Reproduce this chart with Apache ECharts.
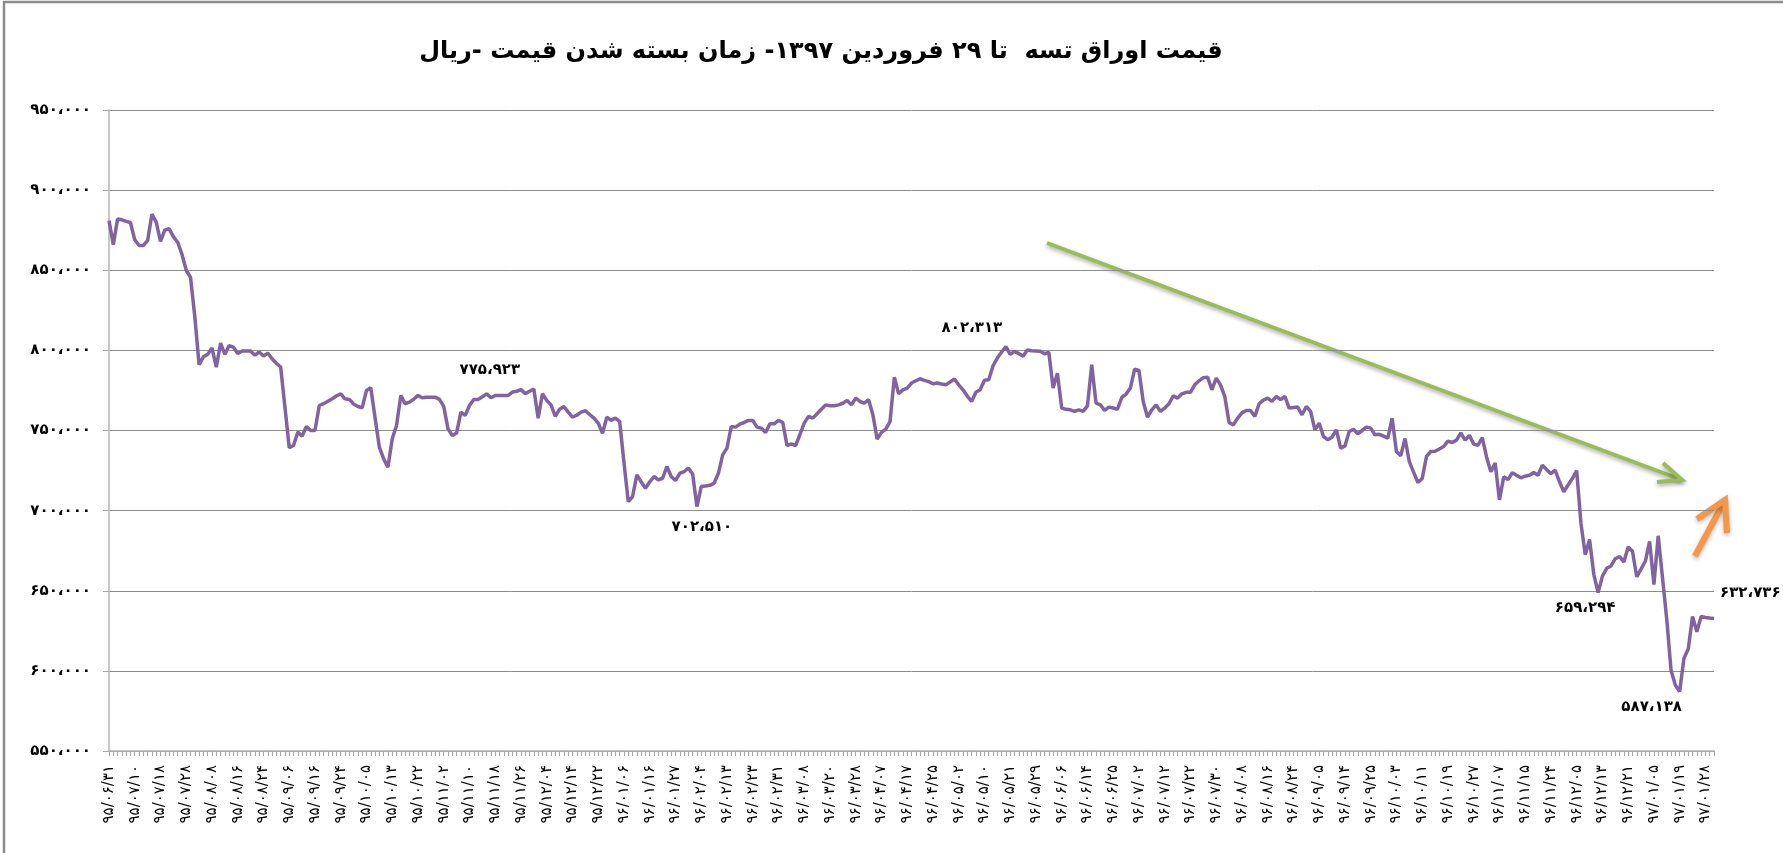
<!DOCTYPE html>
<html lang="fa">
<head>
    <meta charset="UTF-8">
    <title>قیمت اوراق تسه</title>
    <script src="https://cdn.jsdelivr.net/npm/echarts@6/dist/echarts.min.js"></script>
    <style>
        html, body { margin: 0; padding: 0; background: #fff; }
        #chart { width: 1783px; height: 853px; }
    </style>
</head>
<body>
<div id="chart"></div>
<script>
    // قیمت روزانه (هزار ریال) - خوانده شده از نمودار
    var priceK = [
        881, 866, 882, 881.5, 880.5, 879.8, 869, 865.5, 865.5, 868.5,
        885, 880, 868, 875, 876, 871, 867.5, 860, 850, 845.5,
        821, 791, 796, 797.5, 801.5, 789.5, 804.5, 797.5, 803, 802,
        798, 799.6, 799.6, 799.6, 797, 799, 796.5, 798.3, 794.8, 792,
        789.6, 764.6, 739.2, 740.6, 749, 746.5, 752.5, 750, 750, 765.6,
        766.7, 768.3, 769.8, 771.5, 772.9, 769.8, 769.4, 766.5, 765, 764.2,
        775, 776.7, 758, 739.6, 732.3, 727.1, 744.8, 753.1, 771.9, 766.7,
        767.7, 769.5, 771.9, 770.4, 770.8, 770.8, 770.8, 769.4, 765, 751,
        746.9, 748.5, 761.5, 759.4, 765.6, 769.4, 769.4, 771, 772.9, 770.4,
        771.9, 771.9, 771.9, 771.9, 774, 774.5, 775.5, 773, 774.5, 775.923,
        757.7, 772.9, 768.8, 766, 758.8, 763.3, 765, 761.5, 758.3, 759.5,
        761.5, 762.3, 760, 757.7, 754.6, 748.3, 758.3, 756.3, 757.7, 755.6,
        730, 705.6, 708.8, 722.3, 718, 714, 718, 721.3, 719.2, 720.2,
        727.5, 721.3, 718.8, 723.3, 724.4, 726.5, 722.9, 702.51, 715, 715.4,
        715.8, 717.1, 723.3, 734.8, 739, 752.5, 752.1, 754, 755, 756.3,
        756.3, 752.1, 751.5, 748.8, 754.2, 754.2, 756.3, 755, 740.6, 741.7,
        740.6, 747.5, 754.6, 758.8, 757.7, 760.5, 763.3, 766, 765.4, 765.5,
        766, 767, 768.8, 766, 770.2, 768.1, 767.1, 769.2, 759.8, 744.6,
        748.8, 750.8, 755.6, 783.3, 772.9, 775.4, 776.5, 779.6, 781, 782.3,
        781.3, 780.5, 779.2, 779.6, 779, 778.5, 780.3, 782.1, 778.5, 775.4,
        771.5, 768.1, 773.8, 775.4, 781.3, 781.7, 790.4, 795.2, 799, 802.313,
        797.5, 799.4, 798, 796.3, 800.2, 799.8, 799.6, 799.4, 797.9, 798.8,
        776.5, 785.8, 764, 763.2, 762.9, 761.9, 762.9, 761.9, 765.4, 791,
        767.1, 766, 762.5, 764.6, 764, 763.3, 770.6, 772.7, 776.5, 788.3,
        787.5, 768.1, 758.3, 762.9, 766, 761.9, 764, 766.7, 771.7, 770.2,
        772.9, 773.8, 773.8, 778.5, 781, 783, 783.3, 775.4, 782.7, 778.5,
        771.3, 755, 753.5, 757.7, 761, 762.5, 762.5, 758.8, 766.7, 769,
        770.2, 768.1, 771.3, 769.2, 771.3, 764, 764.3, 764.6, 759.8, 765,
        761.9, 750.4, 754.6, 746.3, 744.2, 745.8, 750.4, 739, 740.4, 749.4,
        750.8, 747.9, 750, 752.1, 751.5, 747.3, 747.6, 746.5, 745.2, 757.7,
        736.9, 734.2, 745, 730.6, 724, 717.5, 720, 733.8, 736.9, 737,
        738.5, 740, 743.4, 742.5, 744, 748.5, 744, 747, 741.5, 740.8,
        745.6, 733.5, 724.3, 729.7, 706.7, 721.1, 719.4, 723.6, 722, 720.5,
        721.5, 722.1, 723.8, 722.1, 728.3, 725.6, 723.1, 725.2, 718, 711.8,
        716, 720, 725, 692, 672.5, 682, 660.1, 648.8, 659.1, 664,
        665.5, 670, 671.3, 668, 677.3, 674.6, 658.7, 663.5, 668.4, 680.8,
        653.9, 684.3, 658.1, 632, 600.2, 591, 587.138, 607.9, 613.6, 634,
        624.4, 633.9, 633.3, 633, 632.736
    ];

    // برچسب تاریخ ها (هر ۶ روز معاملاتی)
    var tickLabels = [
        '95/06/31', '95/07/10', '95/07/18', '95/07/28', '95/08/08', '95/08/16', '95/08/24',
        '95/09/06', '95/09/16', '95/09/24', '95/10/05', '95/10/13', '95/10/22', '95/11/02',
        '95/11/10', '95/11/18', '95/11/26', '95/12/04', '95/12/14', '95/12/22', '96/01/06',
        '96/01/16', '96/01/27', '96/02/04', '96/02/13', '96/02/23', '96/02/31', '96/03/08',
        '96/03/20', '96/03/28', '96/04/07', '96/04/17', '96/04/25', '96/05/02', '96/05/10',
        '96/05/21', '96/05/29', '96/06/06', '96/06/14', '96/06/25', '96/07/02', '96/07/12',
        '96/07/22', '96/07/30', '96/08/08', '96/08/16', '96/08/24', '96/09/05', '96/09/14',
        '96/09/25', '96/10/03', '96/10/11', '96/10/19', '96/10/27', '96/11/07', '96/11/15',
        '96/11/24', '96/12/05', '96/12/13', '96/12/21', '97/01/05', '97/01/19', '97/01/28'
    ];

    // نقاط مشخص شده روی نمودار
    var annIdx = [99, 209, 137, 347, 366, 374];
    var annValue = [775923, 802313, 702510, 659294, 587138, 632736];

    var yTicks = [550000, 600000, 650000, 700000, 750000, 800000, 850000, 900000, 950000];

    var titleText = 'قیمت اوراق تسه  تا ۲۹ فروردین ۱۳۹۷- زمان بسته شدن قیمت -ریال';

    function fa(s) {
        return String(s).replace(/\d/g, function (d) { return '۰۱۲۳۴۵۶۷۸۹'[d]; });
    }
    function faNum(v) {
        return fa(Math.round(v).toLocaleString('en-US')).replace(/,/g, '،');
    }

    var price = priceK.map(function (v) { return Math.round(v * 1000); });
    var cats = price.map(function (v, i) { return i; });

    // جای برچسب ها نسبت به نقطه
    var annOffset = [[-44, -19], [-34, -19], [5, 21], [-13, 15], [-28, 16], [6, -25]];
    var annAlign = ['center', 'center', 'center', 'center', 'center', 'left'];

    var myChart = echarts.init(document.getElementById('chart'));
    var option = {
        animation: false,
        backgroundColor: '#fff',
        grid: { left: 109, right: 69, top: 110, bottom: 102, containLabel: false },
        xAxis: {
            type: 'category',
            data: cats,
            boundaryGap: false,
            axisLine: { show: true, lineStyle: { color: '#b4b4b4', width: 1.5 } },
            axisTick: { show: true, interval: 0, length: 5, lineStyle: { color: '#a6a6a6' } },
            axisLabel: {
                interval: 5,
                rotate: 90,
                margin: 14,
                color: '#000',
                fontFamily: 'DejaVu Sans',
                fontSize: 15,
                formatter: function (v, i) {
                    var t = tickLabels[i / 6];
                    return t ? fa(t) : '';
                }
            },
            splitLine: { show: false }
        },
        yAxis: {
            type: 'value',
            min: yTicks[0],
            max: yTicks[yTicks.length - 1],
            interval: 50000,
            axisLine: { show: true, lineStyle: { color: '#b4b4b4', width: 1.5 } },
            axisTick: { show: true, length: 6, lineStyle: { color: '#a6a6a6' } },
            axisLabel: {
                margin: 18,
                color: '#000',
                fontFamily: 'DejaVu Sans',
                fontWeight: 'bold',
                fontSize: 15,
                formatter: function (v) { return faNum(v); }
            },
            splitLine: { show: true, lineStyle: { color: '#8c8c8c', width: 1 } }
        },
        series: [{
            name: 'price',
            type: 'line',
            data: price,
            showSymbol: false,
            symbol: 'none',
            lineStyle: { color: '#8064A2', width: 3.5 },
            itemStyle: { color: '#8064A2' },
            markPoint: {
                symbol: 'circle',
                symbolSize: 1,
                itemStyle: { color: 'rgba(0,0,0,0)' },
                label: {
                    show: true,
                    position: 'inside',
                    color: '#000',
                    fontFamily: 'DejaVu Sans',
                    fontWeight: 'bold',
                    fontSize: 15
                },
                data: annIdx.map(function (ix, k) {
                    return {
                        coord: [ix, price[ix]],
                        label: {
                            offset: annOffset[k],
                            align: annAlign[k],
                            formatter: faNum(annValue[k])
                        }
                    };
                })
            }
        }],
        graphic: [
            {
                type: 'rect',
                shape: { x: 4, y: 2, width: 1800, height: 900 },
                style: { fill: 'none', stroke: '#8a8a8a', lineWidth: 2.5 },
                silent: true
            },
            {
                type: 'text',
                x: 821, y: 52,
                style: {
                    text: titleText,
                    align: 'center',
                    verticalAlign: 'middle',
                    font: 'bold 24px "DejaVu Sans"',
                    fill: '#000'
                }
            },
            {
                type: 'polyline',
                shape: { points: [[1047, 243], [1682, 480]] },
                style: { stroke: '#9BBB59', lineWidth: 4, shadowBlur: 4, shadowOffsetY: 2, shadowColor: 'rgba(0,0,0,0.35)' }
            },
            {
                type: 'polyline',
                shape: { points: [[1663, 463], [1682, 480], [1657, 482]] },
                style: { stroke: '#9BBB59', lineWidth: 4, lineJoin: 'miter', shadowBlur: 4, shadowOffsetY: 2, shadowColor: 'rgba(0,0,0,0.35)' }
            },
            {
                type: 'polyline',
                shape: { points: [[1695, 556], [1725, 500]] },
                style: { stroke: '#F79646', lineWidth: 6, shadowBlur: 4, shadowOffsetY: 2, shadowColor: 'rgba(0,0,0,0.3)' }
            },
            {
                type: 'polyline',
                shape: { points: [[1697, 519], [1725, 500], [1727, 533]] },
                style: { stroke: '#F79646', lineWidth: 6, lineJoin: 'miter', shadowBlur: 4, shadowOffsetY: 2, shadowColor: 'rgba(0,0,0,0.3)' }
            }
        ]
    };
    myChart.setOption(option);
</script>
</body>
</html>
